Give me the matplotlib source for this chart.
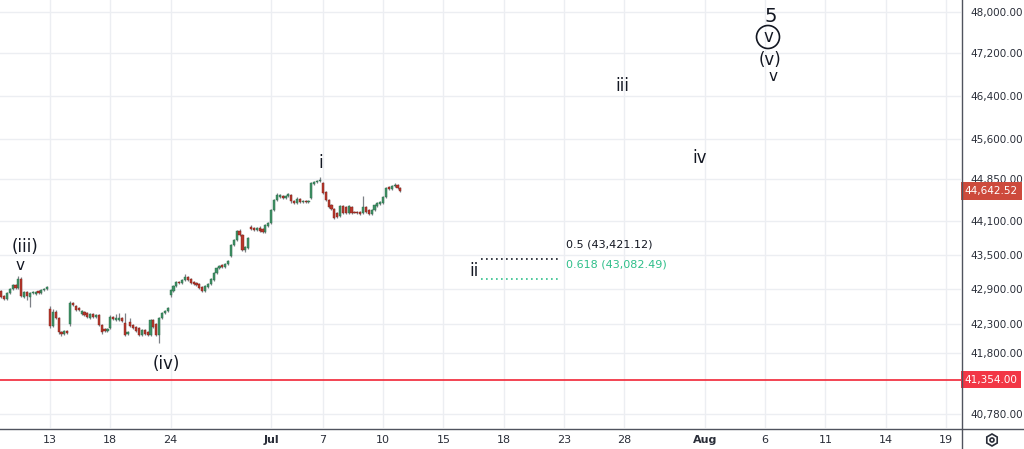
import numpy as np
import matplotlib
matplotlib.use('Agg')
import matplotlib.pyplot as plt
from matplotlib.transforms import blended_transform_factory
from matplotlib.patches import RegularPolygon, Circle
from matplotlib.lines import Line2D

# ---------------- data: hourly OHLC, last bars of Jun 10 .. Jul 10 2025 ----------------
opens = [
    42868, 42782, 42730, 42834, 42903, 42972, 42920, 43077, 42764, 42851, 42764, 42834, 42816, 42868, 42834, 42886, 42903,
    42557, 42265, 42506, 42403, 42163, 42129, 42180,
    42299, 42660, 42609, 42574, 42471, 42506, 42489,
    42403, 42471, 42420, 42454, 42282, 42214, 42180,
    42231, 42420, 42368, 42368, 42403, 42316, 42129,
    42334, 42282, 42248, 42231, 42112, 42197, 42163,
    42112, 42368, 42299, 42112, 42403, 42489, 42523,
    42799, 42868, 42955, 43024, 43007, 43059, 43112,
    43077, 43024, 43007, 42989, 42938, 42868, 42938,
    42989, 43059, 43182, 43269, 43321, 43286, 43339,
    43479, 43673, 43762, 43921, 43850, 43585, 43620,
    43992, 43975, 43939, 43975, 43957, 43903, 44010,
    44064, 44297, 44476, 44531, 44549, 44512, 44549,
    44567, 44458, 44422, 44494, 44440, 44458, 44440,
    44512, 44766, 44803, 44821,
    44785, 44621, 44476, 44387, 44315, 44243, 44189,
    44369, 44351, 44243, 44351, 44261, 44261, 44261,
    44243, 44351, 44297, 44225, 44297, 44369, 44405,
    44422, 44531, 44712, 44675, 44730, 44748, 44694,
]
closes = [
    42764, 42730, 42834, 42903, 42972, 42920, 43077, 42782, 42851, 42782, 42834, 42843, 42851, 42834, 42886, 42903, 42938,
    42265, 42506, 42403, 42163, 42129, 42180, 42146,
    42660, 42626, 42540, 42540, 42523, 42454, 42420,
    42471, 42420, 42454, 42282, 42163, 42180, 42214,
    42420, 42385, 42403, 42403, 42351, 42112, 42163,
    42265, 42231, 42180, 42112, 42197, 42129, 42112,
    42368, 42248, 42112, 42403, 42489, 42523, 42574,
    42886, 42955, 43024, 43007, 43059, 43112, 43059,
    43007, 42989, 42972, 42920, 42868, 42955, 42989,
    43077, 43182, 43269, 43304, 43286, 43339, 43391,
    43673, 43762, 43921, 43850, 43585, 43638, 43797,
    43957, 43939, 43975, 43921, 43903, 44028, 44064,
    44297, 44476, 44567, 44567, 44512, 44549, 44585,
    44458, 44422, 44494, 44440, 44458, 44440, 44458,
    44785, 44803, 44821, 44839,
    44603, 44476, 44351, 44315, 44153, 44171, 44369,
    44243, 44243, 44369, 44243, 44252, 44243, 44225,
    44351, 44261, 44225, 44297, 44387, 44422, 44440,
    44531, 44694, 44675, 44730, 44748, 44694, 44642.52,
]
highs = [
    42886, 42799, 42851, 42920, 42989, 42989, 43130, 43112, 42868, 42868, 42851, 42868, 42868, 42886, 42903, 42920, 42955,
    42609, 42557, 42540, 42420, 42180, 42197, 42197,
    42695, 42678, 42626, 42591, 42540, 42523, 42506,
    42489, 42489, 42471, 42471, 42299, 42231, 42231,
    42454, 42437, 42471, 42489, 42420, 42489, 42180,
    42403, 42299, 42265, 42248, 42214, 42214, 42180,
    42385, 42385, 42316, 42420, 42506, 42540, 42591,
    42903, 42972, 43042, 43042, 43077, 43164, 43130,
    43094, 43042, 43024, 43007, 42955, 42972, 43007,
    43094, 43199, 43286, 43321, 43339, 43356, 43409,
    43690, 43779, 43939, 43957, 43868, 43655, 43815,
    44028, 43992, 43992, 44010, 43975, 44046, 44082,
    44315, 44494, 44603, 44585, 44567, 44567, 44603,
    44585, 44476, 44531, 44512, 44476, 44476, 44476,
    44803, 44821, 44839, 44894,
    44803, 44639, 44494, 44405, 44333, 44261, 44387,
    44387, 44369, 44387, 44369, 44279, 44279, 44279,
    44549, 44369, 44315, 44315, 44405, 44440, 44458,
    44549, 44712, 44730, 44748, 44785, 44766, 44712,
]
lows = [
    42747, 42712, 42712, 42816, 42886, 42903, 42903, 42764, 42747, 42712, 42591, 42816, 42799, 42816, 42816, 42868, 42886,
    42231, 42248, 42385, 42129, 42095, 42112, 42129,
    42265, 42609, 42523, 42523, 42454, 42437, 42403,
    42385, 42403, 42403, 42265, 42129, 42163, 42163,
    42214, 42368, 42351, 42351, 42334, 42095, 42112,
    42248, 42214, 42163, 42095, 42095, 42112, 42095,
    42095, 42231, 42095, 41976, 42385, 42471, 42506,
    42764, 42851, 42938, 42989, 42989, 43042, 43042,
    42989, 42972, 42955, 42903, 42851, 42851, 42920,
    42972, 43042, 43164, 43251, 43269, 43269, 43321,
    43462, 43655, 43744, 43832, 43567, 43550, 43603,
    43939, 43921, 43921, 43903, 43885, 43885, 43992,
    44046, 44279, 44458, 44512, 44494, 44494, 44531,
    44422, 44405, 44405, 44422, 44422, 44422, 44422,
    44494, 44748, 44785, 44803,
    44585, 44458, 44333, 44297, 44135, 44153, 44171,
    44225, 44225, 44225, 44225, 44243, 44225, 44207,
    44225, 44243, 44207, 44207, 44279, 44351, 44387,
    44405, 44512, 44657, 44657, 44712, 44675, 44621,
]

# trading calendar (hourly bars)
HOLIDAYS = ['2025-06-19', '2025-07-04']
HALF_DAYS = {'2025-07-03': 4}
BARS_PER_DAY = 7
ANCHOR = '2025-06-13'
FIRST_BAR_DATE = '2025-06-10'
FIRST_BAR_OFFSET = 4

tick_dates = ['2025-06-13', '2025-06-18', '2025-06-24', '2025-07-01', '2025-07-07', '2025-07-10',
              '2025-07-15', '2025-07-18', '2025-07-23', '2025-07-28', '2025-08-01', '2025-08-06',
              '2025-08-11', '2025-08-14', '2025-08-19']
tick_labels = ['13', '18', '24', 'Jul', '7', '10', '15', '18', '23', '28', 'Aug', '6', '11', '14', '19']

price_ticks = [48000, 47200, 46400, 45600, 44850, 44100, 43500, 42900, 42300, 41800, 40780]

last_price = 44642.52
support_level = 41354.00
fib_levels = [0.5, 0.618]
fib_prices = [43421.12, 43082.49]

# wave labels: text, bar position, price
wave_text = ['(iii)', 'v', '(iv)', 'i', 'ii', 'iii', 'iv', '5', '(v)', 'v']
wave_bar = [-8.7, -10.4, 40.4, 94.4, 147.6, 199.2, 226.3, 251.0, 250.7, 251.7]
wave_price = [43638, 43321, 41615, 45149, 43217, 46581, 45241, 47903, 47075, 46752]
wave_size = [12, 11, 12, 12, 12, 12, 12, 14, 12, 11]
circled_text = 'v'
circled_bar = 250.0
circled_price = 47516


def bar_index(date):
    days = int(np.busday_count(ANCHOR, date, holidays=HOLIDAYS))
    idx = days * BARS_PER_DAY
    for d, nb in HALF_DAYS.items():
        if ANCHOR <= d < date:
            idx -= BARS_PER_DAY - nb
        elif date <= d < ANCHOR:
            idx += BARS_PER_DAY - nb
    return idx


W, H = 1024, 449
fig = plt.figure(figsize=(W / 100, H / 100), dpi=100)
fig.patch.set_facecolor('white')
ax_w_px, ax_h_px = 961, 428
ax = fig.add_axes([0, (H - ax_h_px) / H, ax_w_px / W, ax_h_px / H])
ax.set_facecolor('white')

o = np.array(opens, float)
c = np.array(closes, float)
hi = np.maximum(np.array(highs, float), np.maximum(o, c))
lo = np.minimum(np.array(lows, float), np.minimum(o, c))
x = bar_index(FIRST_BAR_DATE) + FIRST_BAR_OFFSET + np.arange(len(o))

up = c >= o
green, green_e = '#3f9166', '#2b6b49'
red, red_e = '#b8372c', '#7c241c'
ax.vlines(x, lo, hi, color='#7d8087', lw=0.9, zorder=3)
body_lo = np.minimum(o, c)
body_h = np.maximum(np.abs(c - o), 8)
ax.bar(x[up], body_h[up], bottom=body_lo[up], width=0.75, color=green, edgecolor=green_e, lw=0.3, zorder=4)
ax.bar(x[~up], body_h[~up], bottom=body_lo[~up], width=0.75, color=red, edgecolor=red_e, lw=0.3, zorder=4)

ax.set_yscale('log')
ax.set_ylim(40551, 48234)
px_per_bar = 2.872
x_left = -50 / px_per_bar
ax.set_xlim(x_left, x_left + ax_w_px / px_per_bar)

# grid
grid_c = '#eceef2'
for p in price_ticks:
    ax.axhline(p, color=grid_c, lw=1, zorder=0)
tick_pos = [bar_index(d) for d in tick_dates]
for t in tick_pos:
    ax.axvline(t, color=grid_c, lw=1, zorder=0)

# axes cosmetics
for s in ['top', 'left', 'right', 'bottom']:
    ax.spines[s].set_visible(False)
ax.yaxis.tick_right()
ax.yaxis.set_minor_locator(matplotlib.ticker.NullLocator())
ax.set_yticks(price_ticks)
ax.set_yticklabels([f'{p:,.2f}' for p in price_ticks])
ax.tick_params(axis='y', length=0, pad=7, labelsize=7.5, labelcolor='#2a2e39')
ax.set_xticks(tick_pos)
ax.set_xticklabels(tick_labels)
ax.tick_params(axis='x', length=0, pad=5, labelsize=8, labelcolor='#2a2e39')
for lbl in ax.get_xticklabels():
    if lbl.get_text() in ('Jul', 'Aug'):
        lbl.set_fontweight('bold')

# separator lines of the price and time scales (full figure extent)
fig.lines.append(Line2D([ax_w_px + 0.5, ax_w_px + 0.5], [0, H], transform=None, color='#50535e', lw=1))
fig.lines.append(Line2D([0, W], [H - ax_h_px - 0.5, H - ax_h_px - 0.5], transform=None, color='#50535e', lw=1))

# support line
ax.axhline(support_level, color='#f23645', lw=1.3, zorder=2)

# price boxes on the axis
btr = blended_transform_factory(ax.transAxes, ax.transData)
ax.text(1.004, last_price, f'{last_price:,.2f}', transform=btr, ha='left', va='center',
        fontsize=7.5, color='white', clip_on=False, zorder=10,
        bbox=dict(boxstyle='square,pad=0.35', fc='#cd4a3c', ec='none'))
ax.text(1.004, support_level, f'{support_level:,.2f}', transform=btr, ha='left', va='center',
        fontsize=7.5, color='white', clip_on=False, zorder=10,
        bbox=dict(boxstyle='square,pad=0.35', fc='#f23645', ec='none'))

# fib retracement
fib_start, fib_end = 150.1, 177.6
fib_colors = ['#131722', '#2fbf8a']
for lvl, pr, col in zip(fib_levels, fib_prices, fib_colors):
    ax.hlines(pr, fib_start, fib_end, colors=col, linestyles=(0, (1, 2)), lw=1.2, zorder=5)
    ax.annotate(f'{lvl:g} ({pr:,.2f})', xy=(fib_end, pr), xytext=(4.5, 10.5), textcoords='offset points',
                fontsize=8, color=col, ha='left', va='center')

# wave labels
for t, b, p, s in zip(wave_text, wave_bar, wave_price, wave_size):
    ax.text(b, p, t, ha='center', va='center', fontsize=s, color='#131722', zorder=6)
ax.text(circled_bar, circled_price, circled_text, ha='center', va='center', fontsize=12, color='#131722',
        zorder=6, bbox=dict(boxstyle='circle,pad=0.15', fc='none', ec='#131722', lw=1.2))

# settings icon in bottom-right corner
fig.patches.append(RegularPolygon((992, H - 440), numVertices=6, radius=6, orientation=0,
                                  transform=None, fill=False, ec='#2a2e39', lw=1.2))
fig.patches.append(Circle((992, H - 440), radius=2, transform=None, fill=False, ec='#2a2e39', lw=1.2))

fig.savefig('out.png', dpi=100, facecolor='white')
